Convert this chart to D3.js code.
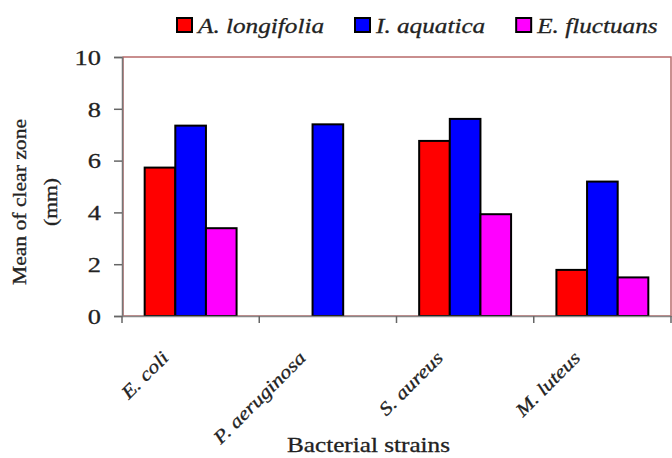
<!DOCTYPE html>
<html><head><meta charset="utf-8">
<script src="https://cdn.jsdelivr.net/npm/d3@7"></script>
<style>body{margin:0;background:#fff}svg{display:block}text{font-family:"Liberation Serif","Times New Roman",serif;fill:#222;stroke:#222;stroke-width:0.3px}</style>
</head><body>
<script>
const categories = ["E. coli", "P. aeruginosa", "S. aureus", "M. luteus"];
const seriesNames = ["A. longifolia", "I. aquatica", "E. fluctuans"];
const seriesColors = ["#ff0000", "#0000ff", "#ff00ff"];
const aLongifolia = [5.73, 0, 6.76, 1.78];
const iAquatica = [7.35, 7.40, 7.61, 5.19];
const eFluctuans = [3.39, 0, 3.93, 1.49];
const yTicks = [0, 2, 4, 6, 8, 10];
const yLabel = ["Mean of clear zone", "(mm)"];
const xLabel = "Bacterial strains";

const W = 672, H = 458;
const m = {l: 122, r: 671, t: 57, b: 316};
const STRETCH = 1.2;
const values = [aLongifolia, iAquatica, eFluctuans];

const svg = d3.select("body").append("svg").attr("width", W).attr("height", H);
svg.append("rect").attr("width", W).attr("height", H).attr("fill", "#fff");

const x0 = d3.scaleBand().domain(categories).range([m.l, m.r]).padding(0);
const x1 = d3.scaleBand().domain(seriesNames).range([0, x0.bandwidth()]).paddingInner(0).paddingOuter(0.74);
const y = d3.scaleLinear().domain([0, 10]).range([m.b, m.t]);

function stretch(sel) {
  sel.each(function() {
    const len = this.getComputedTextLength();
    d3.select(this).attr("textLength", len * STRETCH).attr("lengthAdjust", "spacingAndGlyphs");
  });
}

// plot frame
svg.append("rect").attr("x", m.l + 1).attr("y", m.t).attr("width", m.r - m.l - 1).attr("height", m.b - m.t)
  .attr("fill", "none").attr("stroke", "#b86a6a").attr("stroke-width", 1.5);

// bars
const data = [];
categories.forEach((c, i) => seriesNames.forEach((s, j) => data.push({c, s, j, v: values[j][i]})));
svg.append("g").selectAll("rect").data(data.filter(d => d.v > 0)).join("rect")
  .attr("x", d => x0(d.c) + x1(d.s))
  .attr("y", d => y(d.v))
  .attr("width", x1.bandwidth())
  .attr("height", d => y(0) - y(d.v))
  .attr("fill", d => seriesColors[d.j])
  .attr("stroke", "#000").attr("stroke-width", 2);

// y axis
const yAxis = svg.append("g").attr("transform", `translate(${m.l},0)`)
  .call(d3.axisLeft(y).tickValues(yTicks).tickSize(8).tickPadding(13).tickFormat(d3.format("d")));
yAxis.select(".domain").attr("stroke", "#777").attr("stroke-width", 1.5);
yAxis.selectAll(".tick line").attr("stroke", "#666").attr("stroke-width", 1.5);
yAxis.selectAll(".tick text").attr("font-size", 22).attr("font-family", null).attr("fill", null).attr("dy", "0.33em").call(stretch);

// x axis
const xAxis = svg.append("g").attr("transform", `translate(0,${m.b})`)
  .call(d3.axisBottom(x0).tickSize(0).tickFormat(""));
xAxis.select(".domain").attr("stroke", "#888").attr("stroke-width", 1.5);
xAxis.selectAll(".tick").remove();
const bounds = categories.map(c => x0(c)).concat([m.r]);
xAxis.selectAll("line.sep").data(bounds).join("line").attr("class", "sep")
  .attr("x1", d => d).attr("x2", d => d).attr("y1", 0).attr("y2", 7)
  .attr("stroke", "#666").attr("stroke-width", 1.5);

// category labels
svg.append("g").selectAll("text").data(categories).join("text")
  .attr("transform", d => `translate(${x0(d) + x0.bandwidth() / 2 - 21},359) rotate(-45)`)
  .attr("text-anchor", "end").attr("font-size", 18.5).attr("font-style", "italic")
  .text(d => d).call(stretch);

// x title
svg.append("text").attr("x", (m.l + m.r) / 2 - 28).attr("y", 452).attr("text-anchor", "middle")
  .attr("font-size", 21).text(xLabel).call(stretch);

// y title
const yt = svg.append("g").attr("transform", "translate(26,202) rotate(-90)");
yt.selectAll("text").data(yLabel).join("text").attr("x", 0).attr("y", (d, i) => i * 31)
  .attr("text-anchor", "middle").attr("font-size", 18).text(d => d).call(stretch);

// legend
const lg = svg.append("g");
let lx = 177;
seriesNames.forEach((s, j) => {
  lg.append("rect").attr("x", lx).attr("y", 18).attr("width", 15).attr("height", 14)
    .attr("fill", seriesColors[j]).attr("stroke", "#000").attr("stroke-width", 2);
  const t = lg.append("text").attr("x", lx + 21).attr("y", 32.5).attr("font-size", 21)
    .attr("font-style", "italic").text(s).call(stretch);
  lx += 21 + t.node().getComputedTextLength() + 31;
});
</script>
</body></html>
